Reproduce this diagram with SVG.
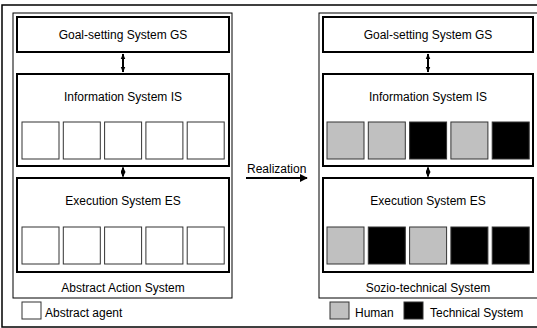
<svg xmlns="http://www.w3.org/2000/svg" width="537" height="328" viewBox="0 0 537 328">
<style>
text{font-family:"Liberation Sans",Arial,Helvetica,sans-serif;font-size:12px;fill:#000}
.c{text-anchor:middle}
.frame{fill:#fff;stroke:#000;stroke-width:1.5}
.sys{fill:#fff;stroke:#000;stroke-width:1}
.sub{fill:#fff;stroke:#000;stroke-width:2}
.ag{stroke:#333;stroke-width:1}
.w{fill:#fff}
.g{fill:#c0c0c0}
.k{fill:#000}
.arr{stroke:#000;stroke-width:2;fill:none}
</style>
<defs>
<marker id="ah" viewBox="0 0 10 10" refX="9" refY="5" markerWidth="4" markerHeight="4" orient="auto-start-reverse" markerUnits="strokeWidth">
<path d="M0,0 L10,5 L0,10 z" fill="#000"/>
</marker>
<marker id="av" viewBox="0 0 10 10" refX="9" refY="5" markerWidth="3" markerHeight="3" orient="auto-start-reverse" markerUnits="strokeWidth">
<path d="M0,1 L10,5 L0,9 z" fill="#000"/>
</marker>
<marker id="ah2" viewBox="0 0 10 10" refX="9" refY="5" markerWidth="2.5" markerHeight="2.5" orient="auto-start-reverse" markerUnits="strokeWidth">
<path d="M0,0 L10,5 L0,10 z" fill="#000"/>
</marker>
</defs>
<rect class="frame" x="2" y="5" width="540" height="322"/>

<g id="abstract-system">
<rect class="sys" x="13" y="13" width="219" height="285"/>
<text class="c" x="123" y="292">Abstract Action System</text>
</g>
<g id="left-gs">
<rect class="sub" x="17" y="17" width="212" height="35"/>
<text class="c" x="123" y="39">Goal-setting System GS</text>
</g>
<g id="left-is">
<rect class="sub" x="17" y="74" width="212" height="92"/>
<text class="c" x="123" y="101">Information System IS</text>
<rect class="ag w" x="22" y="122" width="37" height="37"/>
<rect class="ag w" x="63.3" y="122" width="37" height="37"/>
<rect class="ag w" x="104.6" y="122" width="37" height="37"/>
<rect class="ag w" x="145.9" y="122" width="37" height="37"/>
<rect class="ag w" x="187.2" y="122" width="37" height="37"/>
</g>
<g id="left-es">
<rect class="sub" x="17" y="178" width="212" height="94"/>
<text class="c" x="123" y="205">Execution System ES</text>
<rect class="ag w" x="22" y="227" width="37" height="37"/>
<rect class="ag w" x="63.3" y="227" width="37" height="37"/>
<rect class="ag w" x="104.6" y="227" width="37" height="37"/>
<rect class="ag w" x="145.9" y="227" width="37" height="37"/>
<rect class="ag w" x="187.2" y="227" width="37" height="37"/>
</g>
<g id="legend-abstract">
<rect class="ag w" x="22" y="302" width="19" height="17"/>
<text x="45" y="317">Abstract agent</text>
</g>

<g id="sozio-system">
<rect class="sys" x="319" y="13" width="222" height="285"/>
<text class="c" x="428" y="292">Sozio-technical System</text>
</g>
<g id="right-gs">
<rect class="sub" x="323" y="17" width="210" height="35"/>
<text class="c" x="428" y="39">Goal-setting System GS</text>
</g>
<g id="right-is">
<rect class="sub" x="323" y="74" width="210" height="92"/>
<text class="c" x="428" y="101">Information System IS</text>
<rect class="ag g" x="327" y="122" width="37" height="37"/>
<rect class="ag g" x="368.3" y="122" width="37" height="37"/>
<rect class="ag k" x="409.6" y="122" width="37" height="37"/>
<rect class="ag g" x="450.9" y="122" width="37" height="37"/>
<rect class="ag k" x="492.2" y="122" width="37" height="37"/>
</g>
<g id="right-es">
<rect class="sub" x="323" y="178" width="210" height="94"/>
<text class="c" x="428" y="205">Execution System ES</text>
<rect class="ag g" x="327" y="227" width="37" height="37"/>
<rect class="ag k" x="368.3" y="227" width="37" height="37"/>
<rect class="ag g" x="409.6" y="227" width="37" height="37"/>
<rect class="ag k" x="450.9" y="227" width="37" height="37"/>
<rect class="ag k" x="492.2" y="227" width="37" height="37"/>
</g>
<g id="legend-sozio">
<rect class="ag g" x="330" y="302" width="19" height="17"/>
<text x="355" y="317">Human</text>
<rect class="ag k" x="404" y="302" width="19" height="17"/>
<text x="430" y="317">Technical System</text>
</g>

<g id="connectors">
<line class="arr" x1="123" y1="54" x2="123" y2="72" marker-start="url(#av)" marker-end="url(#av)"/>
<line class="arr" x1="123" y1="167.5" x2="123" y2="176.5" marker-start="url(#ah2)" marker-end="url(#ah2)"/>
<line class="arr" x1="428" y1="54" x2="428" y2="72" marker-start="url(#av)" marker-end="url(#av)"/>
<line class="arr" x1="428" y1="167.5" x2="428" y2="176.5" marker-start="url(#ah2)" marker-end="url(#ah2)"/>
<line class="arr" x1="246" y1="178" x2="307" y2="178" marker-end="url(#ah)"/>
<text x="247" y="173">Realization</text>
</g>
</svg>
